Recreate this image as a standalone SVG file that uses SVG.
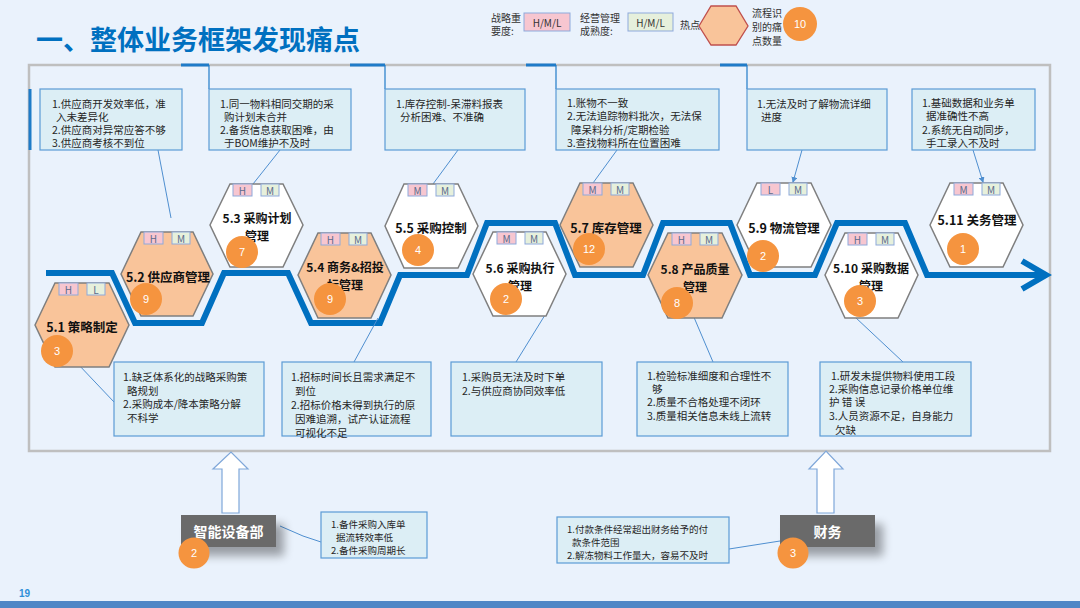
<svg xmlns="http://www.w3.org/2000/svg" width="1080" height="608" viewBox="0 0 1080 608">
<defs>
<style>
.cjk{font-family:"Noto Sans CJK SC","Liberation Sans",sans-serif}
.hexO{fill:#F9C49A;stroke:#7F7F7F;stroke-width:1.5}
.hexW{fill:#FFFFFF;stroke:#7F7F7F;stroke-width:1.5}
.tagP{fill:#F7C6D0;stroke:#8EA9DB;stroke-width:1}
.tagG{fill:#E6F0DC;stroke:#8EA9DB;stroke-width:1}
.tagT{font-family:"Noto Sans CJK SC","Liberation Sans",sans-serif;font-size:10px;fill:#5A6B8C;text-anchor:middle;dominant-baseline:central}
.lbl{font-family:"Noto Sans CJK SC","Liberation Sans",sans-serif;font-size:12.5px;font-weight:bold;fill:#111;text-anchor:middle;dominant-baseline:central}
.lbl2{font-family:"Noto Sans CJK SC","Liberation Sans",sans-serif;font-size:12px;font-weight:bold;fill:#111;text-anchor:middle;dominant-baseline:central}
.dot{fill:#F5943F}
.num{font-family:"Liberation Sans",sans-serif;font-size:11px;fill:#FFFFFF;text-anchor:middle;dominant-baseline:central}
.box{fill:#DCEEF5;stroke:#5B9BD5;stroke-width:1.2}
.bt{font-family:"Noto Sans CJK SC","Liberation Sans",sans-serif;font-size:10.5px;fill:#262626;dominant-baseline:central}
.bs{font-family:"Noto Sans CJK SC","Liberation Sans",sans-serif;font-size:9.5px;fill:#262626;dominant-baseline:central}
.lead{stroke:#4F8FD0;stroke-width:1;fill:none}
.leg{font-family:"Noto Sans CJK SC","Liberation Sans",sans-serif;font-size:10px;fill:#333;dominant-baseline:central}
.dept{fill:#6B6B6B}
.deptT{font-family:"Noto Sans CJK SC","Liberation Sans",sans-serif;font-size:14px;font-weight:bold;fill:#FFFFFF;text-anchor:middle;dominant-baseline:central}
.harrow{fill:#FFFFFF;stroke:#7FA7D9;stroke-width:1.2}
</style>
<marker id="ah" markerWidth="6" markerHeight="6" refX="5" refY="3" orient="auto" markerUnits="userSpaceOnUse">
<path d="M0,0 L6,3 L0,6 Z" fill="#4F8FD0"/>
</marker>
<filter id="sh" x="-30%" y="-30%" width="170%" height="200%">
<feGaussianBlur in="SourceAlpha" stdDeviation="5"/>
<feOffset dx="8" dy="9" result="b"/>
<feComponentTransfer><feFuncA type="linear" slope="0.35"/></feComponentTransfer>
<feMerge><feMergeNode/><feMergeNode in="SourceGraphic"/></feMerge>
</filter>
</defs>

<rect x="0" y="0" width="1080" height="608" fill="#EAF2FC"/>

<!-- title -->
<text x="36" y="50" class="cjk" font-size="27" font-weight="bold" fill="#0070C0">一、整体业务框架发现痛点</text>

<!-- legend -->
<g id="legend">
<text x="491" y="17" class="leg">战略重</text>
<text x="491" y="30" class="leg">要度:</text>
<rect x="524" y="13" width="46" height="18" fill="#F7C6D0" stroke="#8EA9DB" stroke-width="1"/>
<text x="547" y="22.5" class="leg" text-anchor="middle" fill="#5A6B8C">H/M/L</text>
<text x="580" y="17" class="leg">经营管理</text>
<text x="580" y="30" class="leg">成熟度:</text>
<rect x="628" y="13" width="45" height="18" fill="#E6F0DC" stroke="#8EA9DB" stroke-width="1"/>
<text x="650.5" y="22.5" class="leg" text-anchor="middle" fill="#5A6B8C">H/M/L</text>
<text x="680" y="24" class="leg" font-size="9.5">热点:</text>
<polygon points="699,26 711,6 736,6 748,26 736,45 711,45" fill="#F9C49A" stroke="#C0504D" stroke-width="1.3"/>
<text x="752" y="12" class="leg">流程识</text>
<text x="752" y="26" class="leg">别的痛</text>
<text x="752" y="40" class="leg">点数量</text>
<circle cx="800" cy="24" r="17" class="dot"/>
<text x="800" y="24" class="num">10</text>
</g>

<!-- main frame -->
<rect x="29" y="65" width="1021" height="386" fill="none" stroke="#BFBFBF" stroke-width="2.5"/>
<g stroke="#1F7BC8" stroke-width="3" fill="none">
<line x1="181" y1="65" x2="209" y2="65"/>
<line x1="350" y1="65" x2="385" y2="65"/>
<line x1="526" y1="65" x2="556" y2="65"/>
<line x1="720" y1="65" x2="747" y2="65"/>
<line x1="30" y1="89" x2="30" y2="150"/>
</g>
<g stroke="#1F7BC8" stroke-width="1.2" fill="none">
<line x1="209" y1="65" x2="209" y2="89"/>
<line x1="385" y1="65" x2="385" y2="89"/>
<line x1="556" y1="65" x2="556" y2="89"/>
<line x1="747" y1="65" x2="747" y2="89"/>
</g>

<!-- ribbon -->
<g id="ribbon" fill="none" stroke="#0070C0" stroke-width="6" stroke-linejoin="miter">
<polyline points="46,273 112,273 135,323 202,323 224,273 288,273 311,323 380,323 400,275 467,275 487,223 555,223 575,275 643,275 663,223 730,223 750,275 815,275 837,223 905,223 927,275 1045,275"/>
<polyline points="1022,261 1046,275 1022,289" stroke-linecap="butt"/>
</g>

<!-- connectors -->
<g id="connectors">
<line x1="158" y1="150" x2="171" y2="218" class="lead"/>
<line x1="280" y1="150" x2="253" y2="184" class="lead"/>
<line x1="458" y1="150" x2="433" y2="184" class="lead"/>
<line x1="617" y1="150" x2="593" y2="183" class="lead"/>
<line x1="802" y1="150" x2="793" y2="182" class="lead" marker-end="url(#ah)"/>
<line x1="973" y1="150" x2="983" y2="182" class="lead" marker-end="url(#ah)"/>
<line x1="77" y1="363" x2="114" y2="402" class="lead"/>
<line x1="378" y1="318" x2="354" y2="362" class="lead"/>
<line x1="545" y1="315" x2="516" y2="362" class="lead"/>
<line x1="693" y1="315" x2="713" y2="362" class="lead"/>
<line x1="855" y1="317" x2="903" y2="362" class="lead"/>
<polyline points="280,526 303,536 321,542" class="lead"/>
<line x1="729" y1="549" x2="780" y2="541" class="lead"/>
</g>

<!-- top issue boxes -->
<g id="boxA">
<rect x="40" y="89" width="142" height="61" class="box"/>
<text x="52" y="103" class="bt">1.供应商开发效率低，准</text>
<text x="56" y="116" class="bt">入未差异化</text>
<text x="52" y="129" class="bt">2.供应商对异常应答不够</text>
<text x="52" y="142" class="bt">3.供应商考核不到位</text>
</g>
<g id="boxB">
<rect x="209" y="89" width="142" height="61" class="box"/>
<text x="220" y="103" class="bt">1.同一物料相同交期的采</text>
<text x="224" y="116" class="bt">购计划未合并</text>
<text x="220" y="129" class="bt">2.备货信息获取困难，由</text>
<text x="224" y="142" class="bt">于BOM维护不及时</text>
</g>
<g id="boxC">
<rect x="385" y="89" width="140" height="61" class="box"/>
<text x="396" y="103" class="bt">1.库存控制-呆滞料报表</text>
<text x="400" y="116" class="bt">分析困难、不准确</text>
</g>
<g id="boxD">
<rect x="556" y="89" width="163" height="61" class="box"/>
<text x="567" y="102" class="bt">1.账物不一致</text>
<text x="567" y="115" class="bt">2.无法追踪物料批次，无法保</text>
<text x="571" y="129" class="bt">障呆料分析/定期检验</text>
<text x="567" y="142" class="bt">3.查找物料所在位置困难</text>
</g>
<g id="boxE">
<rect x="747" y="89" width="140" height="61" class="box"/>
<text x="757" y="103" class="bt">1.无法及时了解物流详细</text>
<text x="761" y="116" class="bt">进度</text>
</g>
<g id="boxF">
<rect x="912" y="89" width="123" height="61" class="box"/>
<text x="922" y="102" class="bt">1.基础数据和业务单</text>
<text x="926" y="115" class="bt">据准确性不高</text>
<text x="922" y="129" class="bt">2.系统无自动同步，</text>
<text x="926" y="142" class="bt">手工录入不及时</text>
</g>

<!-- bottom issue boxes -->
<g id="boxG">
<rect x="114" y="362" width="150" height="74" class="box"/>
<text x="123" y="376" class="bt">1.缺乏体系化的战略采购策</text>
<text x="127" y="390" class="bt">略规划</text>
<text x="123" y="403" class="bt">2.采购成本/降本策略分解</text>
<text x="127" y="417" class="bt">不科学</text>
</g>
<g id="boxH">
<rect x="282" y="362" width="149" height="74" class="box"/>
<text x="291" y="376" class="bt">1.招标时间长且需求满足不</text>
<text x="295" y="390" class="bt">到位</text>
<text x="291" y="404" class="bt">2.招标价格未得到执行的原</text>
<text x="295" y="418" class="bt">因难追溯，试产认证流程</text>
<text x="295" y="432" class="bt">可视化不足</text>
</g>
<g id="boxI">
<rect x="451" y="362" width="151" height="74" class="box"/>
<text x="462" y="376" class="bt">1.采购员无法及时下单</text>
<text x="462" y="390" class="bt">2.与供应商协同效率低</text>
</g>
<g id="boxJ">
<rect x="637" y="362" width="151" height="74" class="box"/>
<text x="647" y="375" class="bt">1.检验标准细度和合理性不</text>
<text x="652" y="388" class="bt">够</text>
<text x="647" y="401" class="bt">2.质量不合格处理不闭环</text>
<text x="647" y="415" class="bt">3.质量相关信息未线上流转</text>
</g>
<g id="boxK">
<rect x="820" y="362" width="151" height="74" class="box"/>
<text x="831" y="375" class="bt">1.研发未提供物料使用工段</text>
<text x="829" y="388" class="bt">2.采购信息记录价格单位维</text>
<text x="829" y="401" class="bt">护 错 误</text>
<text x="829" y="415" class="bt">3.人员资源不足，自身能力</text>
<text x="835" y="429" class="bt">欠缺</text>
</g>

<!-- hex nodes -->
<g id="n51">
<polygon points="35,325 55,283 109,283 129,325 109,367 55,367" class="hexO"/>
<rect x="59" y="283" width="19" height="12" class="tagP"/><text x="68.5" y="289" class="tagT">H</text>
<rect x="87" y="283" width="18" height="12" class="tagG"/><text x="96" y="289" class="tagT">L</text>
<text x="82" y="326" class="lbl">5.1 策略制定</text>
<circle cx="57" cy="351" r="16" class="dot"/><text x="57" y="351" class="num">3</text>
</g>
<g id="n52">
<polygon points="121,274 141,232 193,232 213,274 193,316 141,316" class="hexO"/>
<rect x="144" y="232" width="19" height="12" class="tagP"/><text x="153.5" y="238" class="tagT">H</text>
<rect x="172" y="232" width="18" height="12" class="tagG"/><text x="181" y="238" class="tagT">M</text>
<text x="168" y="276" class="lbl">5.2 供应商管理</text>
<circle cx="146" cy="299" r="16" class="dot"/><text x="146" y="299" class="num">9</text>
</g>
<g id="n53">
<polygon points="210,225 230,184 283,184 303,225 283,267 230,267" class="hexW"/>
<rect x="233" y="184" width="19" height="12" class="tagP"/><text x="242.5" y="190" class="tagT">H</text>
<rect x="261" y="184" width="18" height="12" class="tagG"/><text x="270" y="190" class="tagT">M</text>
<text x="257" y="217" class="lbl2">5.3 采购计划</text>
<text x="257" y="235" class="lbl2">管理</text>
<circle cx="242" cy="252" r="16" class="dot"/><text x="242" y="252" class="num">7</text>
</g>
<g id="n54">
<polygon points="298,275 318,233 371,233 391,275 371,318 318,318" class="hexO"/>
<rect x="321" y="233" width="19" height="12" class="tagP"/><text x="330.5" y="239" class="tagT">H</text>
<rect x="349" y="233" width="18" height="12" class="tagG"/><text x="358" y="239" class="tagT">M</text>
<text x="345" y="266" class="lbl2">5.4 商务&amp;招投</text>
<text x="345" y="284" class="lbl2">标管理</text>
<circle cx="330" cy="299" r="16" class="dot"/><text x="330" y="299" class="num">9</text>
</g>
<g id="n55">
<polygon points="385,226 404,184 458,184 478,226 458,268 404,268" class="hexW"/>
<rect x="408" y="184" width="19" height="12" class="tagP"/><text x="417.5" y="190" class="tagT">M</text>
<rect x="436" y="184" width="18" height="12" class="tagG"/><text x="445" y="190" class="tagT">M</text>
<text x="431" y="227" class="lbl">5.5 采购控制</text>
<circle cx="418" cy="250" r="16" class="dot"/><text x="418" y="250" class="num">4</text>
</g>
<g id="n56">
<polygon points="473,274 493,232 546,232 566,274 546,316 493,316" class="hexW"/>
<rect x="497" y="232" width="19" height="12" class="tagP"/><text x="506.5" y="238" class="tagT">M</text>
<rect x="525" y="232" width="18" height="12" class="tagG"/><text x="534" y="238" class="tagT">M</text>
<text x="520" y="267" class="lbl2">5.6 采购执行</text>
<text x="520" y="285" class="lbl2">管理</text>
<circle cx="506" cy="299" r="16" class="dot"/><text x="506" y="299" class="num">2</text>
</g>
<g id="n57">
<polygon points="560,225 580,183 633,183 653,225 633,267 580,267" class="hexO"/>
<rect x="583" y="183" width="19" height="12" class="tagP"/><text x="592.5" y="189" class="tagT">M</text>
<rect x="611" y="183" width="18" height="12" class="tagG"/><text x="620" y="189" class="tagT">M</text>
<text x="606" y="227" class="lbl">5.7 库存管理</text>
<circle cx="589" cy="249" r="16" class="dot"/><text x="589" y="249" class="num">12</text>
</g>
<g id="n58">
<polygon points="648,275 668,233 722,233 742,275 722,318 668,318" class="hexO"/>
<rect x="672" y="233" width="19" height="12" class="tagP"/><text x="681.5" y="239" class="tagT">H</text>
<rect x="700" y="233" width="18" height="12" class="tagG"/><text x="709" y="239" class="tagT">M</text>
<text x="695" y="268" class="lbl2">5.8 产品质量</text>
<text x="695" y="286" class="lbl2">管理</text>
<circle cx="677" cy="303" r="16" class="dot"/><text x="677" y="303" class="num">8</text>
</g>
<g id="n59">
<polygon points="737,225 757,183 811,183 831,225 811,267 757,267" class="hexW"/>
<rect x="761" y="183" width="19" height="12" class="tagP"/><text x="770.5" y="189" class="tagT">L</text>
<rect x="789" y="183" width="18" height="12" class="tagG"/><text x="798" y="189" class="tagT">M</text>
<text x="784" y="227" class="lbl">5.9 物流管理</text>
<circle cx="763" cy="256" r="16" class="dot"/><text x="763" y="256" class="num">2</text>
</g>
<g id="n510">
<polygon points="825,275 845,233 898,233 918,275 898,318 845,318" class="hexW"/>
<rect x="848" y="233" width="19" height="12" class="tagP"/><text x="857.5" y="239" class="tagT">H</text>
<rect x="876" y="233" width="18" height="12" class="tagG"/><text x="885" y="239" class="tagT">M</text>
<text x="871" y="267" class="lbl2">5.10 采购数据</text>
<text x="871" y="285" class="lbl2">管理</text>
<circle cx="860" cy="301" r="16" class="dot"/><text x="860" y="301" class="num">3</text>
</g>
<g id="n511">
<polygon points="930,225 950,183 1003,183 1023,225 1003,267 950,267" class="hexW"/>
<rect x="954" y="183" width="19" height="12" class="tagP"/><text x="963.5" y="189" class="tagT">M</text>
<rect x="982" y="183" width="18" height="12" class="tagG"/><text x="991" y="189" class="tagT">M</text>
<text x="977" y="219" class="lbl">5.11 关务管理</text>
<circle cx="963" cy="249" r="16" class="dot"/><text x="963" y="249" class="num">1</text>
</g>

<!-- departments -->
<g id="deptIT">
<polygon points="222,513 222,469 213,469 231,452 248,469 239,469 239,513" class="harrow"/>
<rect x="181" y="515" width="95" height="32" class="dept" filter="url(#sh)"/>
<text x="228.5" y="531" class="deptT">智能设备部</text>
<circle cx="194" cy="553" r="15.5" class="dot"/><text x="194" y="553" class="num">2</text>
</g>
<g id="boxL">
<rect x="321" y="512" width="106" height="46" class="box"/>
<text x="331" y="524" class="bs">1.备件采购入库单</text>
<text x="336" y="537" class="bs">据流转效率低</text>
<text x="331" y="550" class="bs">2.备件采购周期长</text>
</g>
<g id="deptFin">
<polygon points="817,513 817,469 809,469 826,451 843,469 834,469 834,513" class="harrow"/>
<rect x="780" y="515" width="95" height="32" class="dept" filter="url(#sh)"/>
<text x="827.5" y="531" class="deptT">财务</text>
<circle cx="793" cy="553" r="15.5" class="dot"/><text x="793" y="553" class="num">3</text>
</g>
<g id="boxM">
<rect x="557" y="517" width="172" height="46" class="box"/>
<text x="567" y="529" class="bs">1.付款条件经常超出财务给予的付</text>
<text x="572" y="542" class="bs">款条件范围</text>
<text x="567" y="555" class="bs">2.解冻物料工作量大，容易不及时</text>
</g>

<!-- footer -->
<rect x="0" y="601" width="1080" height="7" fill="#4F86C6"/>
<text x="19" y="597" font-family="Liberation Sans, sans-serif" font-size="10" font-weight="bold" fill="#2F8FD8">19</text>
</svg>
